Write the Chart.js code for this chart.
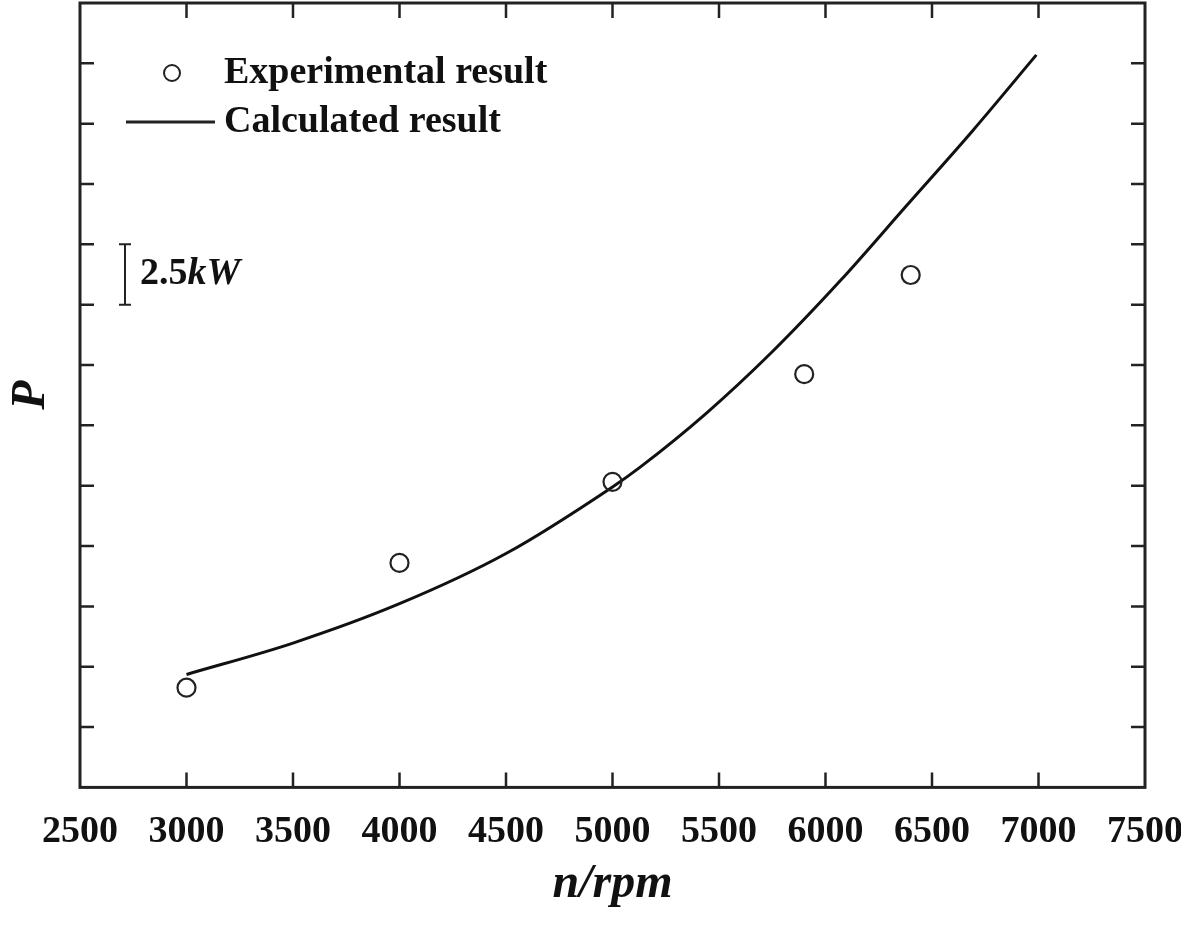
<!DOCTYPE html>
<html>
<head>
<meta charset="utf-8">
<script src="https://cdn.jsdelivr.net/npm/chart.js@4.4.1/dist/chart.umd.min.js"></script>
<style>
  html, body { margin: 0; padding: 0; background: #fff; }
  #wrap { width: 1181px; height: 925px; }
</style>
</head>
<body>
<div id="wrap"><canvas id="grafica" width="1181" height="925"></canvas></div>
<script>
// Datos (P en kW, eje y sin etiquetas, 2.5 kW por división)
const expRpm = [3000, 4000, 5000, 5900, 6400];
const expPower = [4.13, 9.30, 12.66, 17.12, 21.23];

const calcRpm = [3000, 3500, 4000, 4500, 5000, 5130, 5440, 5750, 6070, 6380, 6690, 6990];
const calcPower = [4.68, 5.98, 7.61, 9.69, 12.45, 13.27, 15.5, 18.05, 21.0, 24.1, 27.2, 30.35];

const xMin = 2500, xMax = 7500, xStep = 500;
const yMin = 0, yMax = 32.5, yStep = 2.5;
const scaleBar = [20, 22.5];

const serif = '"Liberation Serif", "Times New Roman", serif';
const ink = '#222';

// marco, marcas hacia dentro, leyenda y textos
const marcoPlugin = {
  id: 'marco',
  afterDraw(chart) {
    const ctx = chart.ctx;
    const a = chart.chartArea;
    const xs = chart.scales.x, ys = chart.scales.y;
    ctx.save();
    ctx.strokeStyle = ink;
    ctx.lineWidth = 3;
    ctx.strokeRect(a.left, a.top, a.right - a.left, a.bottom - a.top);

    ctx.lineWidth = 2.5;
    ctx.beginPath();
    for (let v = xMin + xStep; v < xMax; v += xStep) {
      const px = xs.getPixelForValue(v);
      ctx.moveTo(px, a.bottom); ctx.lineTo(px, a.bottom - 15);
      ctx.moveTo(px, a.top); ctx.lineTo(px, a.top + 15);
    }
    for (let v = yMin + yStep; v < yMax; v += yStep) {
      const py = ys.getPixelForValue(v);
      ctx.moveTo(a.left, py); ctx.lineTo(a.left + 14, py);
      ctx.moveTo(a.right, py); ctx.lineTo(a.right - 14, py);
    }
    ctx.stroke();

    // leyenda
    ctx.fillStyle = '#111';
    ctx.textBaseline = 'middle';
    ctx.font = 'bold 38px ' + serif;
    ctx.lineWidth = 2;
    ctx.beginPath();
    ctx.arc(172, 73, 8, 0, Math.PI * 2);
    ctx.stroke();
    ctx.fillText('Experimental result', 224, 73);
    ctx.lineWidth = 3;
    ctx.beginPath();
    ctx.moveTo(126, 122); ctx.lineTo(215, 122);
    ctx.stroke();
    ctx.fillText('Calculated result', 224, 122);

    // barra de escala 2.5 kW
    const y0 = ys.getPixelForValue(scaleBar[0]);
    const y1 = ys.getPixelForValue(scaleBar[1]);
    ctx.lineWidth = 2;
    ctx.beginPath();
    ctx.moveTo(125, y0); ctx.lineTo(125, y1);
    ctx.moveTo(119, y0); ctx.lineTo(131, y0);
    ctx.moveTo(119, y1); ctx.lineTo(131, y1);
    ctx.stroke();
    const ym = (y0 + y1) / 2;
    ctx.font = 'bold 38px ' + serif;
    ctx.fillText('2.5', 140, ym);
    const w = ctx.measureText('2.5').width;
    ctx.font = 'italic bold 38px ' + serif;
    ctx.fillText('kW', 140 + w, ym);

    // títulos de ejes
    ctx.font = 'italic bold 48px ' + serif;
    ctx.textAlign = 'center';
    ctx.fillText('n/rpm', (a.left + a.right) / 2, 885);
    ctx.translate(32, (a.top + a.bottom) / 2);
    ctx.rotate(-Math.PI / 2);
    ctx.fillText('P', 0, 0);
    ctx.restore();
  }
};

const sinPadding = s => { s.paddingLeft = 0; s.paddingRight = 0; s.paddingTop = 0; s.paddingBottom = 0; };

const ctx = document.getElementById('grafica').getContext('2d');
new Chart(ctx, {
  type: 'scatter',
  data: {
    datasets: [
      {
        label: 'Experimental result',
        data: expRpm.map((r, i) => ({ x: r, y: expPower[i] })),
        pointStyle: 'circle',
        pointRadius: 9,
        pointBorderWidth: 2.2,
        borderColor: ink,
        backgroundColor: 'rgba(0,0,0,0)',
        showLine: false,
        order: 1
      },
      {
        label: 'Calculated result',
        data: calcRpm.map((r, i) => ({ x: r, y: calcPower[i] })),
        showLine: true,
        pointRadius: 0,
        borderColor: '#111',
        borderWidth: 3,
        cubicInterpolationMode: 'monotone',
        order: 2
      }
    ]
  },
  options: {
    responsive: false,
    animation: false,
    devicePixelRatio: 1,
    layout: { autoPadding: false, padding: { left: 80, right: 36, top: 3, bottom: 48 } },
    plugins: { legend: { display: false }, tooltip: { enabled: false } },
    scales: {
      x: {
        type: 'linear',
        min: xMin, max: xMax,
        afterFit: sinPadding,
        grid: { display: false, drawTicks: false },
        border: { display: false },
        ticks: {
          stepSize: xStep,
          padding: 22,
          color: '#111',
          maxRotation: 0,
          font: { family: serif, weight: 'bold', size: 38 },
          callback: v => String(v)
        }
      },
      y: {
        min: yMin, max: yMax,
        afterFit: sinPadding,
        grid: { display: false, drawTicks: false },
        border: { display: false },
        ticks: { display: false, stepSize: yStep }
      }
    }
  },
  plugins: [marcoPlugin]
});
</script>
</body>
</html>
